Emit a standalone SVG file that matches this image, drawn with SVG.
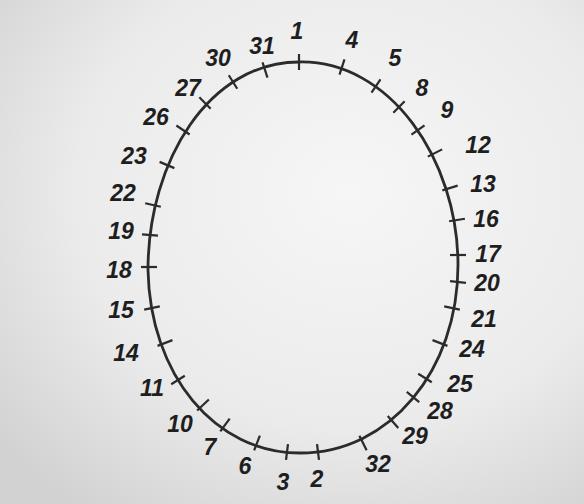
<svg xmlns="http://www.w3.org/2000/svg" width="584" height="504" viewBox="0 0 584 504">
<defs>
<radialGradient id="bg" cx="0.6" cy="0.38" r="0.78">
<stop offset="0" stop-color="#f6f6f6"/>
<stop offset="0.6" stop-color="#ebebeb"/>
<stop offset="1" stop-color="#d2d2d2"/>
</radialGradient>
<style>
.outline{fill:none;stroke:#2b2b2b;stroke-width:2.8}
.t line{stroke:#2b2b2b;stroke-width:2.2}
.t text{font-family:"Liberation Sans","DejaVu Sans",sans-serif;font-size:23px;font-weight:bold;font-style:italic;fill:#1e1e1e;text-anchor:middle;dominant-baseline:central}
</style>
</defs>
<rect width="584" height="504" fill="url(#bg)"/>
<g id="connectors">
<path class="outline" d="M299,62 C390,60 458,160 458,265 C458,370 390,453 300,453 C215,453 150,375 148,270 C148,160 210,62 299,62 Z"/>
</g>
<g id="s1" class="t"><line x1="-8" x2="8" transform="translate(299,62) rotate(90)"/><text x="297" y="31">1</text></g>
<g id="s4" class="t"><line x1="-8" x2="8" transform="translate(342,67) rotate(-72)"/><text x="352" y="40">4</text></g>
<g id="s5" class="t"><line x1="-8" x2="8" transform="translate(376,86) rotate(-56)"/><text x="395" y="58">5</text></g>
<g id="s8" class="t"><line x1="-8" x2="8" transform="translate(399,107) rotate(-45)"/><text x="422" y="88">8</text></g>
<g id="s9" class="t"><line x1="-8" x2="8" transform="translate(418,130) rotate(-35)"/><text x="447" y="110">9</text></g>
<g id="s12" class="t"><line x1="-8" x2="8" transform="translate(435,153) rotate(-27)"/><text x="478" y="145">12</text></g>
<g id="s13" class="t"><line x1="-8" x2="8" transform="translate(450,188) rotate(-17)"/><text x="483" y="184">13</text></g>
<g id="s16" class="t"><line x1="-8" x2="8" transform="translate(457,220) rotate(-9)"/><text x="486" y="219">16</text></g>
<g id="s17" class="t"><line x1="-8" x2="8" transform="translate(458,255) rotate(0)"/><text x="488" y="254">17</text></g>
<g id="s20" class="t"><line x1="-8" x2="8" transform="translate(458,282) rotate(6)"/><text x="487" y="283">20</text></g>
<g id="s21" class="t"><line x1="-8" x2="8" transform="translate(452,308) rotate(12)"/><text x="484" y="319">21</text></g>
<g id="s24" class="t"><line x1="-8" x2="8" transform="translate(440,343) rotate(21)"/><text x="472" y="349">24</text></g>
<g id="s25" class="t"><line x1="-8" x2="8" transform="translate(425,378) rotate(32)"/><text x="460" y="384">25</text></g>
<g id="s28" class="t"><line x1="-8" x2="8" transform="translate(413,397) rotate(39)"/><text x="440" y="411">28</text></g>
<g id="s29" class="t"><line x1="-8" x2="8" transform="translate(393,422) rotate(49)"/><text x="415" y="436">29</text></g>
<g id="s32" class="t"><line x1="-8" x2="8" transform="translate(363,443) rotate(63)"/><text x="378" y="464">32</text></g>
<g id="s2" class="t"><line x1="-8" x2="8" transform="translate(318,452) rotate(83)"/><text x="317" y="479">2</text></g>
<g id="s3" class="t"><line x1="-8" x2="8" transform="translate(287,452) rotate(97)"/><text x="283" y="482">3</text></g>
<g id="s6" class="t"><line x1="-8" x2="8" transform="translate(257,443) rotate(111)"/><text x="245" y="466">6</text></g>
<g id="s7" class="t"><line x1="-8" x2="8" transform="translate(225,425) rotate(126)"/><text x="210" y="447">7</text></g>
<g id="s10" class="t"><line x1="-8" x2="8" transform="translate(203,405) rotate(137)"/><text x="180" y="424">10</text></g>
<g id="s11" class="t"><line x1="-8" x2="8" transform="translate(178,380) rotate(148)"/><text x="152" y="388">11</text></g>
<g id="s14" class="t"><line x1="-8" x2="8" transform="translate(165,343) rotate(159)"/><text x="126" y="353">14</text></g>
<g id="s15" class="t"><line x1="-8" x2="8" transform="translate(152,308) rotate(168)"/><text x="121" y="310">15</text></g>
<g id="s18" class="t"><line x1="-8" x2="8" transform="translate(149,267) rotate(0)"/><text x="119" y="270">18</text></g>
<g id="s19" class="t"><line x1="-8" x2="8" transform="translate(150,235) rotate(5)"/><text x="121" y="231">19</text></g>
<g id="s22" class="t"><line x1="-8" x2="8" transform="translate(153,205) rotate(13)"/><text x="123" y="193">22</text></g>
<g id="s23" class="t"><line x1="-8" x2="8" transform="translate(167,165) rotate(23)"/><text x="134" y="156">23</text></g>
<g id="s26" class="t"><line x1="-8" x2="8" transform="translate(183,130) rotate(34)"/><text x="156" y="117">26</text></g>
<g id="s27" class="t"><line x1="-8" x2="8" transform="translate(205,103) rotate(45)"/><text x="188" y="88">27</text></g>
<g id="s30" class="t"><line x1="-8" x2="8" transform="translate(233,82) rotate(58)"/><text x="218" y="58">30</text></g>
<g id="s31" class="t"><line x1="-8" x2="8" transform="translate(265,70) rotate(72)"/><text x="262" y="46">31</text></g>
</svg>
